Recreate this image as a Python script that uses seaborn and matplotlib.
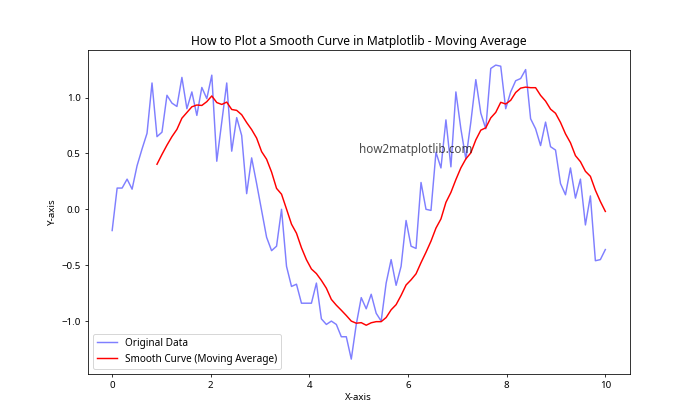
import numpy as np
import pandas as pd
import matplotlib
matplotlib.use("Agg")
import matplotlib.pyplot as plt
import seaborn as sns

x_start, x_end, n_points = 0, 10, 100
y_values = [-0.19, 0.19, 0.19, 0.27, 0.18, 0.39, 0.54, 0.68, 1.13, 0.65,
            0.69, 1.02, 0.95, 0.92, 1.18, 0.90, 1.05, 0.84, 1.09, 0.99,
            1.20, 0.43, 0.78, 1.13, 0.52, 0.82, 0.66, 0.14, 0.46, 0.23,
            -0.01, -0.25, -0.37, -0.33, 0.00, -0.51, -0.69, -0.67, -0.84, -0.84,
            -0.84, -0.66, -0.98, -1.03, -1.00, -1.03, -1.14, -1.14, -1.34, -1.03,
            -0.79, -0.89, -0.76, -0.93, -1.00, -0.66, -0.45, -0.68, -0.51, -0.10,
            -0.33, -0.35, 0.24, 0.00, -0.01, 0.51, 0.37, 0.80, 0.38, 1.05,
            0.72, 0.45, 0.78, 1.16, 0.86, 0.72, 1.26, 1.29, 1.28, 0.90,
            1.05, 1.15, 1.17, 1.25, 0.81, 0.72, 0.57, 0.78, 0.56, 0.53,
            0.23, 0.13, 0.37, 0.10, 0.27, -0.14, 0.12, -0.46, -0.45, -0.36]
window = 10

x = np.linspace(x_start, x_end, n_points)
y = np.array(y_values)
y_smooth = np.convolve(y, np.ones(window) / window, mode="valid")
x_smooth = x[window - 1:]

df_orig = pd.DataFrame({"x": x, "y": y})
df_smooth = pd.DataFrame({"x": x_smooth, "y": y_smooth})

plt.rcParams['font.family'] = ['Noto Sans', 'DejaVu Sans']
fig, ax = plt.subplots(figsize=(10, 6), dpi=70)
sns.lineplot(data=df_orig, x="x", y="y", ax=ax, color="blue", alpha=0.5,
             label="Original Data", linewidth=1.5)
sns.lineplot(data=df_smooth, x="x", y="y", ax=ax, color="red",
             label="Smooth Curve (Moving Average)", linewidth=1.5)
ax.set_title("How to Plot a Smooth Curve in Matplotlib - Moving Average", fontsize=12.4)
ax.set_xlabel("X-axis")
ax.set_ylabel("Y-axis")
ax.text(5, 0.5, "how2matplotlib.com", fontsize=12, alpha=0.7)
ax.legend(loc="lower left", fontsize=10.3)
fig.savefig("out.png", dpi=70)
